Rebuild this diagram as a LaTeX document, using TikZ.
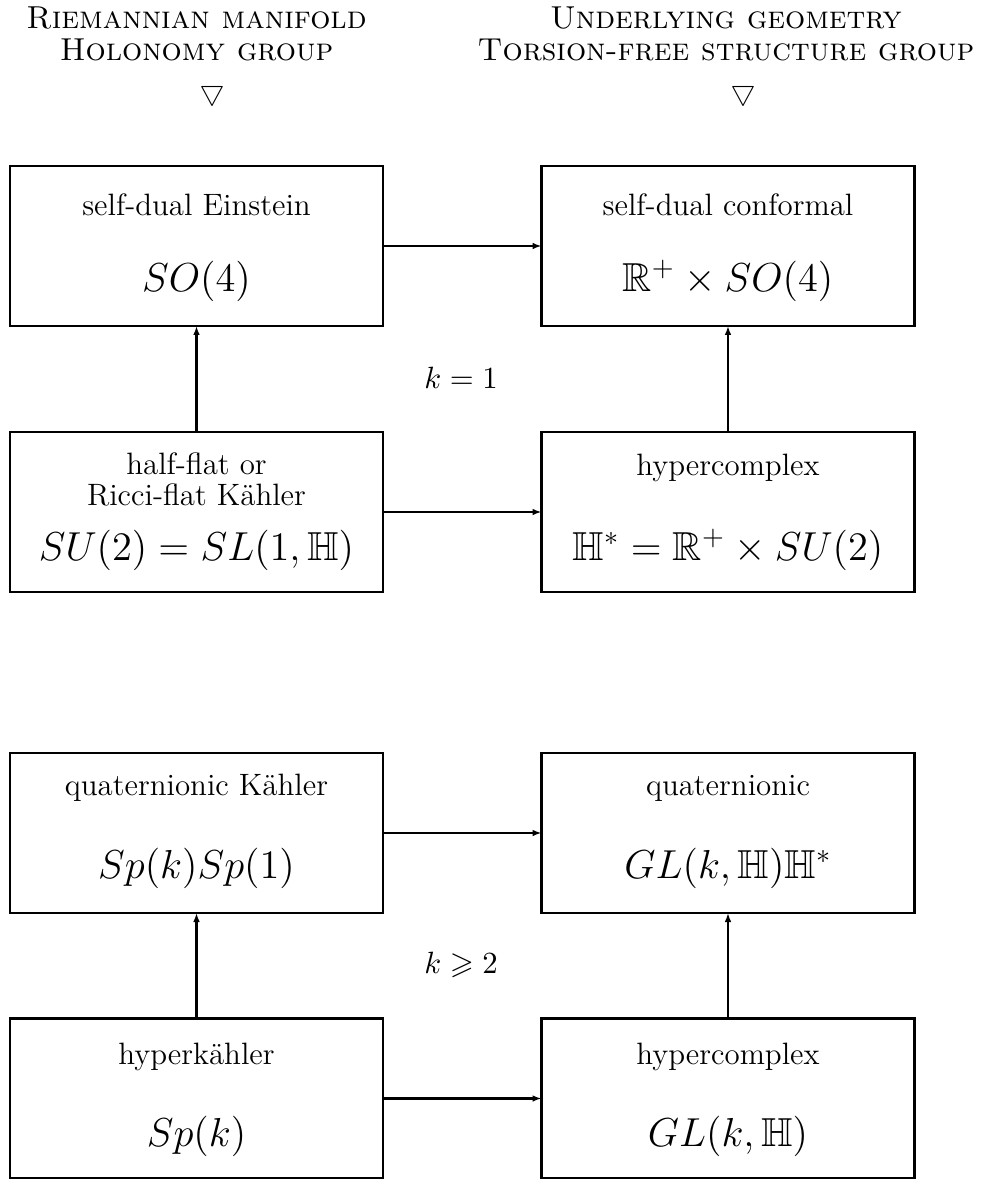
\documentclass[tikz,border=0pt]{standalone}
\usepackage{amsmath,amssymb}
\usetikzlibrary{arrows.meta}

\newlength{\pxu}
\setlength{\pxu}{0.356pt}

\tikzset{
  box/.style={draw, line width=0.75pt, minimum width=373\pxu, minimum height=160\pxu,
              inner sep=0pt, outer sep=0pt},
  txt/.style={inner sep=0pt, anchor=base, font=\fontsize{11}{13}\selectfont},
  grp/.style={inner sep=0pt, anchor=base, font=\Large},
  head/.style={inner sep=0pt, anchor=base, font=\fontsize{11.3}{13}\selectfont\scshape},
  tri/.style={inner sep=0pt, font=\normalsize},
  link/.style={line width=0.75pt, -{Latex[length=3.2pt,width=2.4pt]}},
}

\begin{document}
\begin{tikzpicture}[x=\pxu, y=-\pxu]
\useasboundingbox (0,0) rectangle (981,1179);

% column headings
\node[head] (hl1) at (196.5,28) {Riemannian manifold};
\node[head] (hl2) at (196.5,60) {Holonomy group};
\node[head] (hr1) at (726,28) {Underlying geometry};
\node[head] (hr2) at (726,60) {Torsion-free structure group};
\node[tri] (ml) at (212,93.5) {$\bigtriangledown$};
\node[tri] (mr) at (743,93.5) {$\bigtriangledown$};

% k = 1
\node[box] (sde) at (196.5,246) {};
\node[box] (sdc) at (728,246) {};
\node[box] (hfk) at (196.5,512) {};
\node[box] (hc1) at (728,512) {};

\node[txt] (sde-t) at (196.5,215) {self-dual Einstein};
\node[grp] (sde-g) at (196.5,291) {$SO(4)$};
\node[txt] (sdc-t) at (728,215) {self-dual conformal};
\node[grp] (sdc-g) at (728,291) {$\mathbb{R}^+\times SO(4)$};
\node[txt] (hfk-t1) at (196.5,474) {half-flat or};
\node[txt] (hfk-t2) at (196.5,505) {Ricci-flat K\"ahler};
\node[grp] (hfk-g) at (196.5,560) {$SU(2)=SL(1,\mathbb{H})$};
\node[txt] (hc1-t) at (728,475) {hypercomplex};
\node[grp] (hc1-g) at (728,560) {$\mathbb{H}^*=\mathbb{R}^+\times SU(2)$};

\node[txt] (k1) at (461,388) {$k=1$};

\draw[link] (sde.east) -- (sdc.west);
\draw[link] (hfk.east) -- (hc1.west);
\draw[link] (hfk.north) -- (sde.south);
\draw[link] (hc1.north) -- (sdc.south);

% k >= 2
\node[box] (qk) at (196.5,833) {};
\node[box] (qc) at (728,833) {};
\node[box] (hk) at (196.5,1098.5) {};
\node[box] (hc2) at (728,1098.5) {};

\node[txt] (qk-t) at (196.5,795) {quaternionic K\"ahler};
\node[grp] (qk-g) at (196.5,878) {$Sp(k)Sp(1)$};
\node[txt] (qc-t) at (728,795) {quaternionic};
\node[grp] (qc-g) at (728,878) {$GL(k,\mathbb{H})\mathbb{H}^*$};
\node[txt] (hk-t) at (196.5,1064) {hyperk\"ahler};
\node[grp] (hk-g) at (196.5,1146) {$Sp(k)$};
\node[txt] (hc2-t) at (728,1064) {hypercomplex};
\node[grp] (hc2-g) at (728,1146) {$GL(k,\mathbb{H})$};

\node[txt] (k2) at (461,973) {$k\geqslant 2$};

\draw[link] (qk.east) -- (qc.west);
\draw[link, line width=0.9pt] (hk.east) -- (hc2.west);
\draw[link] (hk.north) -- (qk.south);
\draw[link] (hc2.north) -- (qc.south);
\end{tikzpicture}
\end{document}
